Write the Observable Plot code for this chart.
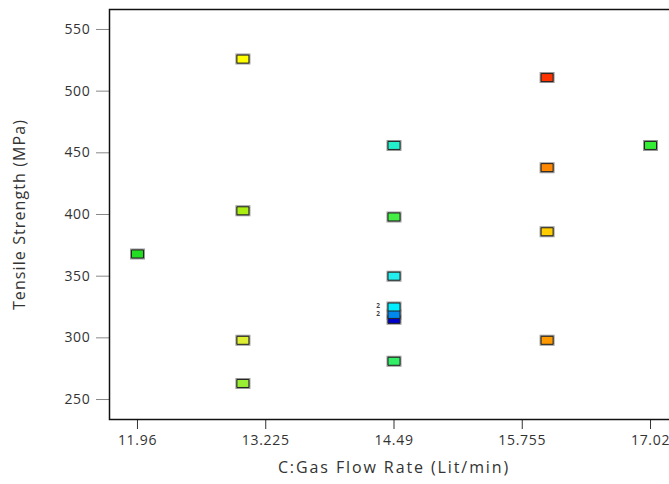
<!DOCTYPE html>
<html>
<head>
<meta charset="utf-8">
<script src="https://cdn.jsdelivr.net/npm/d3@7"></script>
<script src="https://cdn.jsdelivr.net/npm/@observablehq/plot@0.6"></script>
<style>
  html, body { margin: 0; padding: 0; background: #fff; overflow: hidden; width: 669px; height: 484px; }
  #chart svg { max-width: none !important; font-family: "Open Sans", sans-serif; }
  g[aria-label="x-axis tick label"] text, g[aria-label="y-axis tick label"] text { font-size: 14px; letter-spacing: 0.7px; }
  g[aria-label="x-axis label"] text { font-size: 16px; letter-spacing: 1.9px; }
  g[aria-label="y-axis label"] text { font-size: 16px; letter-spacing: 1.1px; }
</style>
</head>
<body>
<div id="chart"></div>
<script>
// Data
const gasFlow = [11.96, 13, 13, 13, 13, 14.49, 14.49, 14.49, 14.49, 14.49, 14.49, 14.49, 16, 16, 16, 16, 17.02];
const tensile = [368, 526, 403, 298, 263, 456, 398, 350, 315, 319, 325, 281, 511, 438, 386, 298, 456];
const pointColors = ["#22dd22", "#ffff00", "#aaee11", "#ddee33", "#99ee33", "#22eecc", "#44ee44", "#22eeee", "#0000cc", "#0088ee", "#00eeff", "#33ee66", "#ff3300", "#ff8800", "#ffcc00", "#ff9900", "#33ee33"];
const xTicks = [11.96, 13.225, 14.49, 15.755, 17.02];
const yTicks = [250, 300, 350, 400, 450, 500, 550];
const repLabelX = [14.49, 14.49];
const repLabelY = [326, 319.5];
const repLabelText = ["2", "2"];

const points = gasFlow.map((x, i) => ({x, y: tensile[i], c: pointColors[i]}));
const reps = repLabelX.map((x, i) => ({x, y: repLabelY[i], t: repLabelText[i]}));

const rectSymbol = { draw(ctx) { ctx.rect(-6, -4, 12, 8); } };

const chart = Plot.plot({
  width: 690,
  height: 484,
  marginTop: 9,
  marginBottom: 65,
  marginLeft: 109,
  marginRight: 12,
  style: { fontSize: "13px", fontFamily: "Open Sans, sans-serif", color: "#333", background: "#fff", maxWidth: "none" },
  x: { domain: [11.684, 17.296] },
  y: { domain: [233.8, 566.2] },
  marks: [
    Plot.axisX({ ticks: xTicks, tickFormat: d => String(d), tickSize: 10, tickPadding: 6, stroke: "#333",
      label: "C:Gas Flow Rate (Lit/min)", labelAnchor: "center", labelArrow: "none", labelOffset: 53, fill: "#333" }),
    Plot.axisY({ ticks: yTicks, tickFormat: d => String(d), tickSize: 13, tickPadding: 6, stroke: "#888",
      label: "Tensile Strength (MPa)", labelAnchor: "center", labelArrow: "none", labelOffset: 96, fill: "#333" }),
    Plot.frame({ stroke: "#111", strokeWidth: 1.5 }),
    Plot.dot(points, { x: "x", y: "y", symbol: rectSymbol, fill: "c", stroke: "#999", strokeWidth: 3 }),
    Plot.dot(points, { x: "x", y: "y", symbol: rectSymbol, fill: "c", stroke: "#222", strokeWidth: 1 }),
    Plot.text(reps, { x: "x", y: "y", text: "t", dx: -16, fontSize: 6.5, fill: "#444", fontWeight: "bold" })
  ]
});
document.getElementById("chart").appendChild(chart);
</script>
</body>
</html>
